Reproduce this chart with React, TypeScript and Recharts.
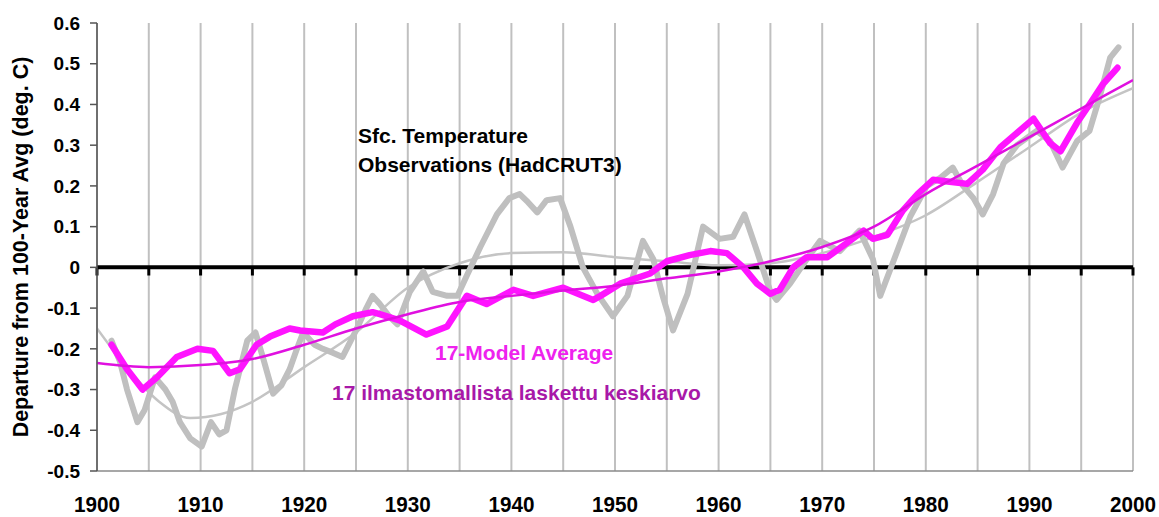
import React from 'react';
import { LineChart, Line, XAxis, YAxis, CartesianGrid, ReferenceLine } from 'recharts';

// HadCRUT3 observations, smoothed (year, deg C departure)
const observations: [number, number][] = [
  [1901.4, -0.18], [1902.2, -0.23], [1902.9, -0.3], [1903.9, -0.38], [1904.6, -0.35],
  [1905.6, -0.27], [1906.6, -0.3], [1907.3, -0.33], [1908, -0.38], [1909, -0.42],
  [1910.1, -0.44], [1911, -0.38], [1911.8, -0.41], [1912.5, -0.4], [1913.3, -0.3],
  [1914.5, -0.18], [1915.3, -0.16], [1916, -0.22], [1917, -0.31], [1917.8, -0.29],
  [1918.6, -0.25], [1919.3, -0.2], [1919.9, -0.16], [1921, -0.19], [1921.8, -0.2],
  [1922.8, -0.21], [1923.7, -0.22], [1925, -0.155], [1926, -0.1], [1926.6, -0.07],
  [1927.3, -0.09], [1928.2, -0.12], [1929, -0.14], [1930.2, -0.06], [1931.5, -0.01],
  [1932.4, -0.06], [1933.8, -0.07], [1934.8, -0.07], [1935.7, -0.02], [1937, 0.05],
  [1938.6, 0.13], [1939.8, 0.17], [1940.8, 0.18], [1941.6, 0.16], [1942.5, 0.135],
  [1943.4, 0.165], [1944.7, 0.17], [1945.7, 0.1], [1946.9, 0], [1948.3, -0.065],
  [1949.8, -0.12], [1951.2, -0.07], [1952.7, 0.065], [1953.7, 0.02], [1954.6, -0.07],
  [1955.6, -0.155], [1957, -0.065], [1958.5, 0.1], [1960.1, 0.07], [1961.4, 0.075],
  [1962.5, 0.13], [1963.7, 0.04], [1965, -0.06], [1965.6, -0.08], [1966.9, -0.04],
  [1968.5, 0.02], [1969.8, 0.065], [1971.7, 0.04], [1973.6, 0.09], [1974.9, 0.02],
  [1975.6, -0.07], [1976.8, 0.01], [1978.5, 0.125], [1980.1, 0.2], [1981.4, 0.22],
  [1982.6, 0.245], [1983.6, 0.2], [1984.6, 0.17], [1985.5, 0.13], [1986.5, 0.18],
  [1987.5, 0.255], [1988.8, 0.3], [1990.7, 0.335], [1992, 0.31], [1993.2, 0.245],
  [1994.6, 0.31], [1995.8, 0.335], [1996.8, 0.42], [1997.8, 0.515], [1998.6, 0.54],
];

// 17-model average
const modelAverage: [number, number][] = [
  [1901.4, -0.19], [1902.9, -0.25], [1904.4, -0.3], [1905.8, -0.27], [1907.7, -0.22],
  [1909.7, -0.2], [1911.2, -0.205], [1912.8, -0.26], [1913.8, -0.25], [1915.4, -0.19],
  [1916.7, -0.17], [1918.6, -0.15], [1919.6, -0.155], [1921.8, -0.16], [1923, -0.14],
  [1924.7, -0.12], [1926.6, -0.11], [1927.3, -0.115], [1929.2, -0.13], [1931.8, -0.165],
  [1933.8, -0.145], [1935.7, -0.07], [1937.6, -0.09], [1940.2, -0.055], [1942.1, -0.07],
  [1945, -0.05], [1947.9, -0.08], [1948.6, -0.07], [1950.5, -0.04], [1953.4, -0.015],
  [1955, 0.015], [1957.2, 0.03], [1959.2, 0.04], [1960.8, 0.035], [1962.4, 0],
  [1963.7, -0.04], [1965, -0.065], [1965.9, -0.055], [1967.2, 0], [1968.5, 0.025],
  [1970.5, 0.025], [1972.4, 0.06], [1974, 0.09], [1974.9, 0.07], [1976.3, 0.08],
  [1977.8, 0.14], [1979.2, 0.18], [1980.7, 0.215], [1982.3, 0.21], [1984, 0.205],
  [1985.5, 0.24], [1987.2, 0.295], [1988.8, 0.33], [1990.4, 0.365], [1992, 0.305],
  [1993, 0.285], [1994.6, 0.355], [1995.8, 0.4], [1997.1, 0.45], [1998.5, 0.49],
];

// polynomial fits
const observationsTrend: [number, number][] = [
  [1900, -0.15], [1903, -0.25], [1906, -0.33], [1909, -0.37], [1912, -0.36],
  [1915, -0.33], [1920, -0.245], [1925, -0.16], [1930, -0.05], [1935, 0.01],
  [1940, 0.035], [1945, 0.037], [1950, 0.025], [1955, 0.015], [1960, 0.005],
  [1965, 0.01], [1970, 0.035], [1975, 0.075], [1980, 0.128], [1985, 0.21],
  [1990, 0.295], [1995, 0.38], [2000, 0.44],
];

const modelTrend: [number, number][] = [
  [1900, -0.235], [1905, -0.245], [1910, -0.24], [1915, -0.225], [1920, -0.19],
  [1925, -0.15], [1930, -0.115], [1935, -0.085], [1940, -0.07], [1945, -0.057],
  [1950, -0.045], [1955, -0.027], [1960, -0.01], [1965, 0.015], [1970, 0.05],
  [1975, 0.1], [1980, 0.18], [1985, 0.25], [1990, 0.32], [1995, 0.39], [2000, 0.46],
];

const gridYears = [1900, 1905, 1910, 1915, 1920, 1925, 1930, 1935, 1940, 1945, 1950,
  1955, 1960, 1965, 1970, 1975, 1980, 1985, 1990, 1995, 2000];
const yTicks = [-0.5, -0.4, -0.3, -0.2, -0.1, 0, 0.1, 0.2, 0.3, 0.4, 0.5, 0.6];

const toRows = (pts: [number, number][]) => pts.map(([year, v]) => ({ year, v }));

const FONT = '"Liberation Sans", Arial, sans-serif';

const XTick = (props: any) => {
  const { x, y, payload } = props;
  if (payload.value % 10 !== 0) return <g />;
  return (
    <text x={x} y={y + 33} textAnchor="middle" fontFamily={FONT} fontWeight="bold" fontSize={22}
      fill="#000" textLength={46} lengthAdjust="spacingAndGlyphs">
      {payload.value}
    </text>
  );
};

const fmtY = (v: number) => (v === 0 ? '0' : v.toFixed(1));

export default function App() {
  return (
    <div style={{ position: 'absolute', left: 0, top: 0, width: 1159, height: 517, background: '#fff' }}>
      <LineChart width={1159} height={517} margin={{ top: 23, right: 26, bottom: 0, left: 0 }}>
        <CartesianGrid vertical horizontal={false} stroke="#c0c0c0" strokeWidth={2} />
        <XAxis type="number" dataKey="year" domain={[1900, 2000]} ticks={gridYears} height={46}
          allowDataOverflow axisLine={{ stroke: '#8a8a8a', strokeWidth: 1.5 }} tickLine={false}
          tick={<XTick />} interval={0} />
        <YAxis type="number" domain={[-0.5, 0.6]} ticks={yTicks} width={97} interval={0}
          tickFormatter={fmtY} tickSize={7} tickMargin={10}
          axisLine={{ stroke: '#555', strokeWidth: 1.5 }} tickLine={{ stroke: '#555', strokeWidth: 1.5 }}
          tick={{ fill: '#000', fontSize: 19, fontWeight: 'bold', fontFamily: FONT }} />
        <ReferenceLine y={0} stroke="#000" strokeWidth={4} />
        {gridYears.map((yr) => (
          <ReferenceLine key={yr} segment={[{ x: yr, y: 0 }, { x: yr, y: -0.02 }]} stroke="#000" strokeWidth={3} />
        ))}
        <Line data={toRows(observationsTrend)} dataKey="v" type="monotone" stroke="#c4c4c4" strokeWidth={2.5}
          dot={false} isAnimationActive={false} />
        <Line data={toRows(observations)} dataKey="v" type="linear" stroke="#bfbfbf" strokeWidth={6}
          strokeLinejoin="round" strokeLinecap="round" dot={false} isAnimationActive={false} />
        <Line data={toRows(modelAverage)} dataKey="v" type="linear" stroke="#ff14ff" strokeWidth={6.5}
          strokeLinejoin="round" strokeLinecap="round" dot={false} isAnimationActive={false} />
        <Line data={toRows(modelTrend)} dataKey="v" type="monotone" stroke="#e010e0" strokeWidth={2.5}
          dot={false} isAnimationActive={false} />
      </LineChart>
      <svg width={1159} height={517} style={{ position: 'absolute', left: 0, top: 0, pointerEvents: 'none' }}>
        <g fontFamily={FONT} fontWeight="bold" fontSize={21}>
          <text transform="translate(28,247) rotate(-90)" textAnchor="middle" fill="#000" fontSize={21.5}>
            Departure from 100-Year Avg (deg. C)
          </text>
          <text x={358} y={143} fill="#000">Sfc. Temperature</text>
          <text x={358} y={172} fill="#000">Observations (HadCRUT3)</text>
          <text x={435} y={360} fill="#ee22ee">17-Model Average</text>
          <text x={332} y={400} fill="#a818a8">17 ilmastomallista laskettu keskiarvo</text>
        </g>
      </svg>
    </div>
  );
}
